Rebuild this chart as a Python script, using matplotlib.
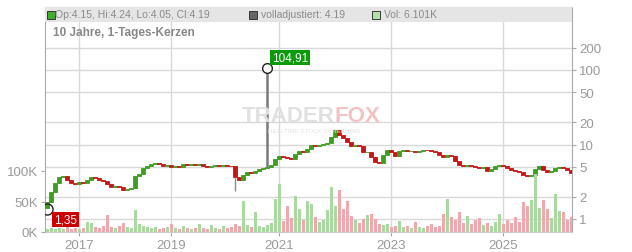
import numpy as np
import matplotlib
matplotlib.use('Agg')
import matplotlib.pyplot as plt
from matplotlib.patches import Rectangle

plt.rcParams['font.family'] = ['Liberation Sans', 'DejaVu Sans']

# one candle per period, oldest first
closes = [1.69, 2.30, 3.04, 3.66, 3.78, 3.34, 3.04, 2.95, 3.14, 3.04,
          3.34, 3.66, 3.55, 3.34, 3.24, 2.95, 2.69, 2.77, 2.69, 2.45,
          2.53, 2.61, 3.78, 4.02, 4.84, 5.15, 5.47, 5.64, 5.47, 5.15,
          5.31, 4.99, 5.15, 4.99, 5.47, 5.31, 5.47, 5.31, 5.40, 5.15,
          4.99, 5.15, 5.31, 5.15, 5.31, 5.15, 5.08, 3.66, 3.34, 3.90,
          4.27, 4.14, 4.41, 4.69, 4.84, 4.99, 5.31, 6.39, 7.01, 6.80,
          6.62, 6.39, 7.45, 8.18, 7.93, 8.70, 9.85, 9.55, 9.85, 10.2,
          10.5, 12.6, 15.7, 13.4, 12.2, 10.8, 9.55, 9.85, 9.55, 7.93,
          8.05, 6.80, 5.82, 5.64, 7.23, 8.44, 7.93, 7.01, 8.18, 8.44,
          8.18, 8.30, 7.93, 8.18, 8.44, 8.32, 8.18, 7.93, 7.23, 6.80,
          7.23, 7.10, 6.01, 5.31, 5.15, 5.31, 5.15, 4.99, 4.84, 4.99,
          4.41, 4.69, 5.15, 5.31, 5.15, 4.84, 4.55, 4.41, 4.27, 3.90,
          3.78, 3.85, 4.69, 5.15, 4.55, 4.27, 4.41, 4.84, 4.99, 4.84,
          4.55, 4.19]
first_open = 1.40

# volume in thousands
volumes = [5, 7, 5, 6, 5, 8, 5, 6, 5, 7,
           16, 14, 8, 6, 10, 28, 8, 7, 10, 15,
           8, 6, 36, 13, 10, 8, 7, 8, 5, 6,
           8, 13, 6, 5, 10, 6, 5, 6, 13, 7,
           5, 11, 6, 5, 10, 6, 8, 13, 10, 51,
           11, 8, 33, 10, 8, 11, 15, 54, 79, 18,
           43, 23, 59, 38, 20, 51, 46, 25, 16, 20,
           36, 74, 43, 69, 38, 51, 26, 20, 15, 21,
           28, 30, 21, 13, 11, 13, 8, 10, 18, 8,
           10, 7, 16, 8, 7, 10, 13, 8, 10, 30,
           54, 25, 20, 33, 15, 26, 13, 20, 23, 11,
           15, 10, 16, 30, 13, 20, 15, 25, 16, 49,
           43, 52, 95, 39, 52, 38, 23, 62, 34, 33,
           20, 25]

year_labels = ['2017', '2019', '2021', '2023', '2025']
year_start_idx = [8, 31, 58, 86, 114]

low_idx, low_value = 0, 1.35
high_idx, high_value = 55, 104.91
crash_idx, crash_low = 47, 2.38

header_ohlc = 'Op:4.15, Hi:4.24, Lo:4.05, Cl:4.19'
header_adj = 'volladjustiert: 4.19'
header_vol = 'Vol: 6.101K'
title = '10 Jahre, 1-Tages-Kerzen'

price_ticks = [1, 2, 5, 10, 20, 50, 100, 200]
vol_ticks = [0, 50, 100]

GREEN = '#3c9e1e'
RED = '#c81414'
VOL_UP = '#a9d9a0'
VOL_DOWN = '#f0a8ae'
GRID = '#d9d9d9'
TXT = '#9a9a9a'

closes = np.array(closes)
opens = np.concatenate([[first_open], closes[:-1]])
idx = np.arange(len(closes))
up = closes >= opens

fig = plt.figure(figsize=(6.32, 2.53), dpi=100)
ax = fig.add_axes([45 / 632, 20 / 253, 527 / 632, 225 / 253])
axv = ax.twinx()

# price axis (log, right side)
ax.set_yscale('log')
ax.set_ylim(10 ** (-13 / 74.5), 10 ** (212 / 74.5))
ax.set_xlim(-0.5, 131.25)
ax.set_yticks(price_ticks)
ax.set_yticklabels([str(t) for t in price_ticks])
ax.yaxis.set_minor_locator(plt.NullLocator())
ax.set_xticks(year_start_idx)
ax.set_xticklabels(year_labels)
ax.grid(True, color=GRID, linewidth=1)
ax.set_axisbelow(True)
ax.tick_params(axis='both', colors='#aaaaaa', labelcolor=TXT, labelsize=9.5,
               length=3, pad=2)

bottoms = np.minimum(opens, closes)
heights = np.abs(closes - opens)
colors = [GREEN if u else RED for u in up]
ax.bar(idx, heights, bottom=bottoms, width=0.8, color=colors,
       edgecolor=colors, linewidth=0.6, zorder=3)

ax.vlines(high_idx, closes[high_idx], high_value, color='#7a7a7a', lw=1.8, zorder=3)
ax.vlines(crash_idx, crash_low, closes[crash_idx], color='#8a8a8a', lw=1.0, zorder=3)

ax.plot([high_idx], [high_value], 'o', mfc='white', mec='#222222', ms=7, mew=1, zorder=5)
ax.plot([low_idx], [low_value], 'o', mfc='none', mec='#222222', ms=8, mew=1, zorder=5)
ax.annotate('104,91', (high_idx, high_value), xytext=(5, 11), textcoords='offset pixels',
            ha='left', va='center', color='white', fontsize=8.5, zorder=6,
            bbox=dict(boxstyle='square,pad=0.15', fc='#0a9a0a', ec='none'))
ax.annotate('1,35', (low_idx, low_value), xytext=(7, -10), textcoords='offset pixels',
            ha='left', va='center', color='white', fontsize=8.5, zorder=6,
            bbox=dict(boxstyle='square,pad=0.15', fc='#cc0000', ec='none'))

for side in ['left', 'right']:
    ax.spines[side].set_color('#aaaaaa')
ax.spines['top'].set_color('#cccccc')
ax.spines['bottom'].set_color('#cccccc')

# volume axis (left side)
axv.yaxis.tick_left()
axv.set_ylim(0, 225 / 61 * 100)
axv.set_yticks(vol_ticks)
axv.set_yticklabels([f'{v}K' for v in vol_ticks])
axv.tick_params(axis='y', colors='#aaaaaa', labelcolor=TXT, labelsize=9.5,
                length=3, pad=2)
vcolors = [VOL_UP if u else VOL_DOWN for u in up]
axv.bar(idx, volumes, width=0.75, color=vcolors, linewidth=0, zorder=2)
for s in axv.spines.values():
    s.set_visible(False)
ax.yaxis.tick_right()

# watermark
axv.text(0.55, 0.52, 'TRADER', transform=axv.transAxes, ha='right', va='center',
         fontsize=16, fontweight='bold', color='#e0e0e0', zorder=1)
axv.text(0.55, 0.52, 'FOX', transform=axv.transAxes, ha='left', va='center',
         fontsize=16, fontweight='bold', color='#f4c2c2', zorder=1)
axv.text(0.51, 0.45, 'REALTIME STOCK SCREENING', transform=axv.transAxes,
         ha='center', va='center', fontsize=4.5, color='#e4e4e4', zorder=1)

# header band
axv.add_patch(Rectangle((0, (233 - 23) / 225), 1, 15 / 225, transform=axv.transAxes,
                        fc='#e5e5e5', ec='none', zorder=8, clip_on=False))
hy = (233 - 15.5) / 225
axv.plot([0.0105], [hy], 's', ms=5.5, mfc='#44aa33', mec='#222222', mew=0.6,
         transform=axv.transAxes, zorder=9, clip_on=False)
axv.text(0.019, hy, header_ohlc, transform=axv.transAxes, ha='left', va='center',
         fontsize=7.5, color='#8a8a8a', zorder=9)
axv.plot([0.394], [hy], 's', ms=5.5, mfc='#666666', mec='#222222', mew=0.6,
         transform=axv.transAxes, zorder=9, clip_on=False)
axv.text(0.410, hy, header_adj, transform=axv.transAxes, ha='left', va='center',
         fontsize=7.5, color='#8a8a8a', zorder=9)
axv.plot([0.628], [hy], 's', ms=5.5, mfc='#b4e0ac', mec='#222222', mew=0.6,
         transform=axv.transAxes, zorder=9, clip_on=False)
axv.text(0.644, hy, header_vol, transform=axv.transAxes, ha='left', va='center',
         fontsize=7.5, color='#8a8a8a', zorder=9)

axv.text(0.015, (233 - 33) / 225, title, transform=axv.transAxes, ha='left',
         va='center', fontsize=8.5, fontweight='bold', color='#888888', zorder=9)

fig.savefig('out.png', dpi=100)
